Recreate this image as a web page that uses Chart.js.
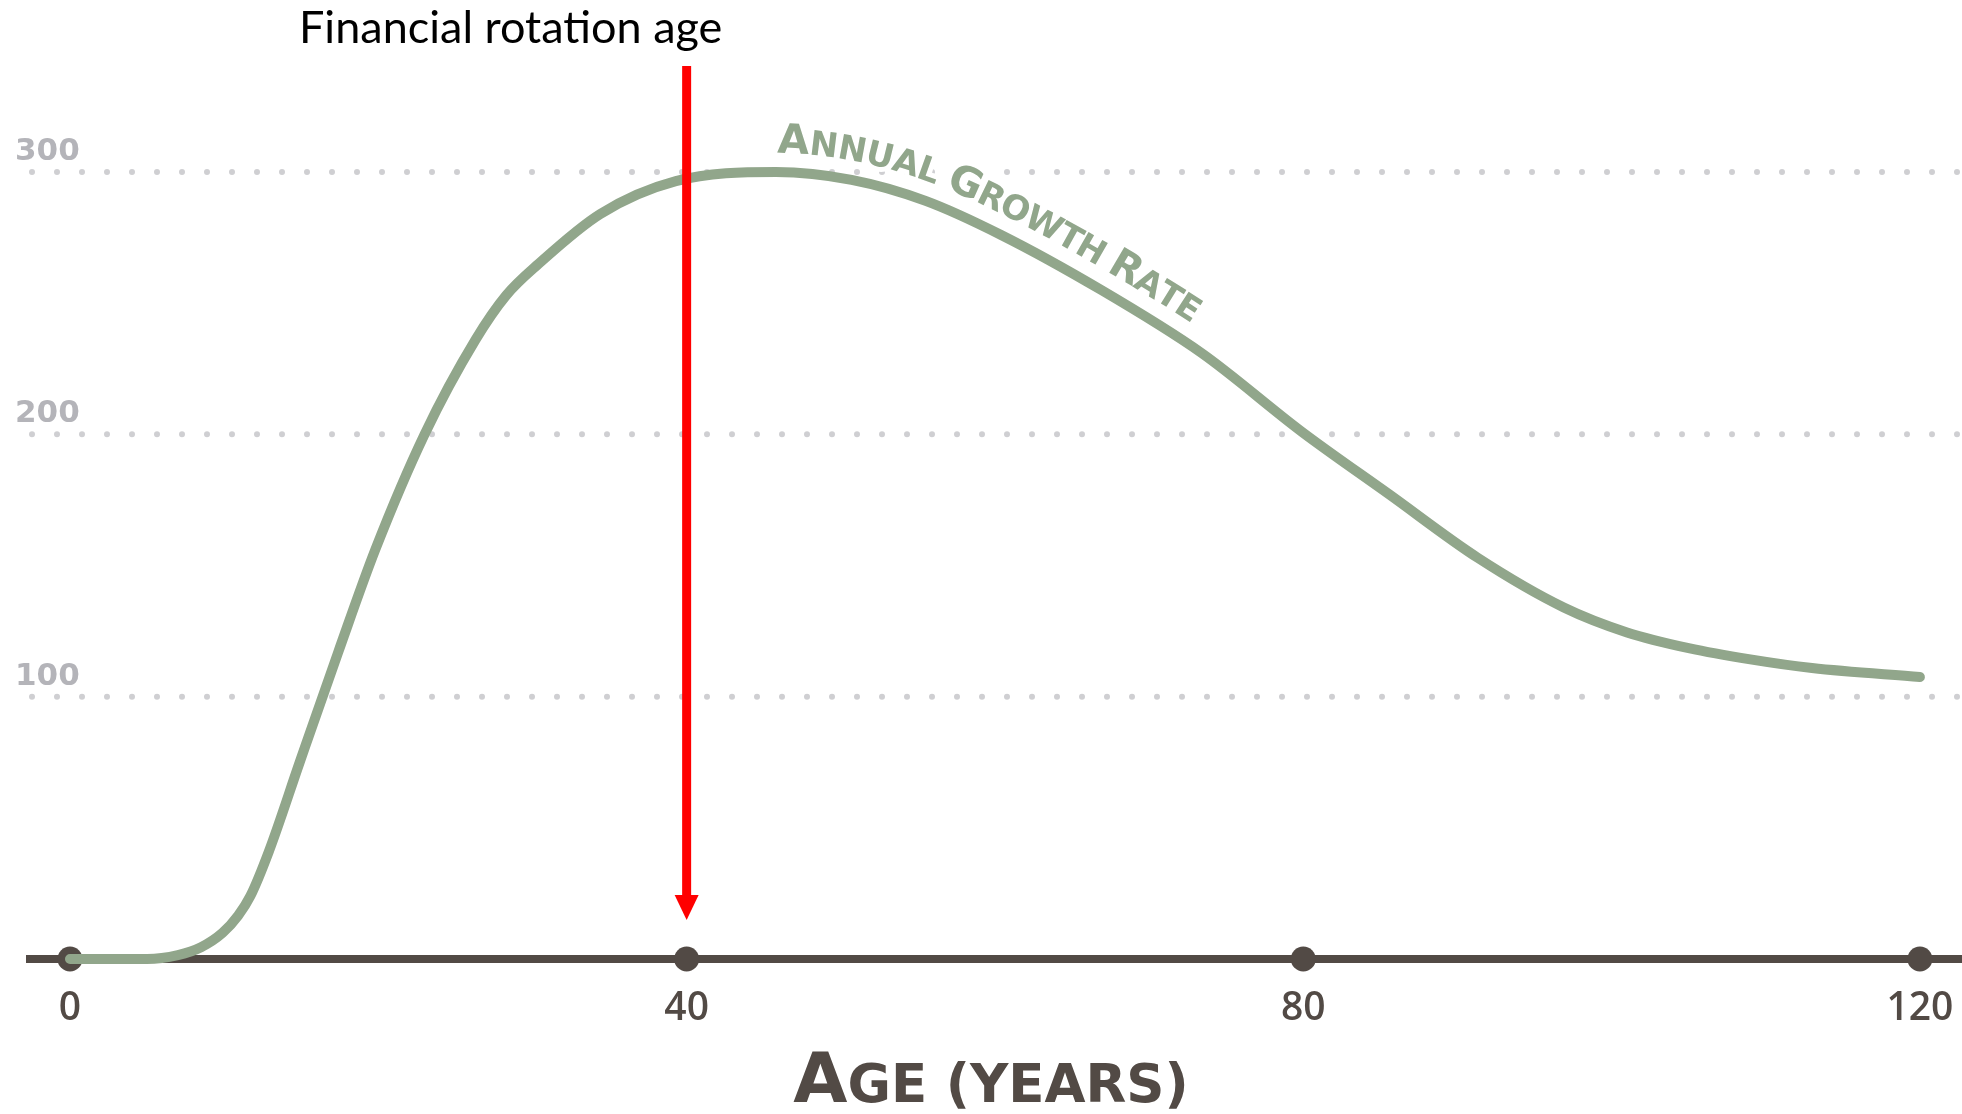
<!DOCTYPE html>
<html>
<head>
<meta charset="utf-8">
<title>Annual growth rate by age</title>
<script src="https://cdn.jsdelivr.net/npm/chart.js@4.4.0/dist/chart.umd.min.js"></script>
<style>
  html, body { margin: 0; padding: 0; background: #fff; }
  canvas { display: block; }
</style>
</head>
<body>
<canvas id="growthChart" width="1962" height="1114"></canvas>
<script>
// stand age (years) and annual growth
const ageYears   = [0, 5, 7, 8.5, 9.9, 10.9, 11.7, 12.9, 14.9, 17.4, 19.8, 23, 26.3, 28.3, 30.4, 34.4, 39.3, 45.8, 50.7, 55.5, 60.4, 66.9, 73.4, 79.9, 85.6, 91.3, 96.9, 101, 105, 109, 113, 120];
const growthRate = [0, 0, 1.5, 4.5, 10, 16.5, 24, 41, 75, 117, 156, 200, 236, 253, 265, 284, 296.5, 300, 297, 289, 276, 255, 231, 201, 177, 153, 134, 124.5, 118.5, 114.2, 110.9, 107.5];

// labelled ages on the bottom axis and the dotted reference levels
const ageTicks    = [0, 40, 80, 120];
const growthTicks = [100, 200, 300];

const rotationAge = 40;
const seriesName  = 'Annual growth rate';
const axisTitle   = 'Age (years)';
const arrowText   = 'Financial rotation age';

const AXIS  = '#524a45';
const CURVE = '#91a68b';
const DOTS  = '#cfcfd2';
const LEVEL = '#b4b4b9';

// sample the drawn (monotone bezier) line so text can follow it
function sampleCurve(points) {
  const path = [];
  for (let i = 0; i < points.length - 1; i++) {
    const a = points[i], b = points[i + 1];
    for (let k = 0; k < 20; k++) {
      const t = k / 20, u = 1 - t;
      path.push({
        x: u * u * u * a.x + 3 * u * u * t * a.cp2x + 3 * u * t * t * b.cp1x + t * t * t * b.x,
        y: u * u * u * a.y + 3 * u * u * t * a.cp2y + 3 * u * t * t * b.cp1y + t * t * t * b.y
      });
    }
  }
  const last = points[points.length - 1];
  path.push({ x: last.x, y: last.y });
  const len = [0];
  for (let i = 1; i < path.length; i++) {
    len.push(len[i - 1] + Math.hypot(path[i].x - path[i - 1].x, path[i].y - path[i - 1].y));
  }
  return { path, len };
}

function drawCurveLabel(chart) {
  const { ctx, scales: { x } } = chart;
  const { path, len } = sampleCurve(chart.getDatasetMeta(0).data);

  const at = s => {
    let i = 1;
    while (i < path.length - 1 && len[i] < s) i++;
    const a = path[i - 1], b = path[i];
    const f = (s - len[i - 1]) / ((len[i] - len[i - 1]) || 1);
    return { x: a.x + (b.x - a.x) * f, y: a.y + (b.y - a.y) * f, angle: Math.atan2(b.y - a.y, b.x - a.x) };
  };
  const lenAtX = px => {
    let i = 0;
    while (i < path.length - 1 && path[i].x < px) i++;
    return len[i];
  };

  // small caps: first letter of each word a little larger
  const glyphs = [];
  seriesName.toUpperCase().split(' ').forEach((word, w) => {
    if (w > 0) glyphs.push({ ch: ' ', size: 34 });
    [...word].forEach((ch, i) => glyphs.push({ ch, size: i === 0 ? 41 : 34 }));
  });
  let total = 0;
  glyphs.forEach(g => {
    ctx.font = `bold ${g.size}px "DejaVu Sans"`;
    g.w = ctx.measureText(g.ch).width;
    total += g.w;
  });

  const s0 = lenAtX(x.getPixelForValue(45.7));
  const s1 = lenAtX(x.getPixelForValue(72.1));
  const gap = (s1 - s0 - total) / (glyphs.length - 1);
  const off = 19;

  let cursor = s0;
  glyphs.forEach(g => {
    const p = at(cursor + g.w / 2);
    g.x = p.x + Math.sin(p.angle) * off;
    g.y = p.y - Math.cos(p.angle) * off;
    g.angle = p.angle;
    cursor += g.w + gap;
  });

  ctx.textAlign = 'center';
  ctx.textBaseline = 'alphabetic';
  ctx.lineJoin = 'round';
  // white halo first so the dotted level line is knocked out behind the letters
  ['halo', 'fill'].forEach(pass => {
    glyphs.forEach(g => {
      if (g.ch === ' ') return;
      ctx.save();
      ctx.translate(g.x, g.y);
      ctx.rotate(g.angle);
      ctx.font = `bold ${g.size}px "DejaVu Sans"`;
      if (pass === 'halo') {
        ctx.strokeStyle = '#fff';
        ctx.lineWidth = 10;
        ctx.strokeText(g.ch, 0, 0);
      } else {
        ctx.fillStyle = CURVE;
        ctx.fillText(g.ch, 0, 0);
      }
      ctx.restore();
    });
  });
}

const overlay = {
  id: 'overlay',
  beforeDatasetsDraw(chart) {
    const { ctx, scales: { y } } = chart;
    ctx.save();
    // dotted levels
    ctx.strokeStyle = DOTS;
    ctx.lineWidth = 6;
    ctx.lineCap = 'round';
    ctx.setLineDash([0, 25]);
    growthTicks.forEach(v => {
      const py = y.getPixelForValue(v);
      ctx.beginPath();
      ctx.moveTo(32, py);
      ctx.lineTo(chart.width, py);
      ctx.stroke();
    });
    ctx.setLineDash([]);
    ctx.fillStyle = LEVEL;
    ctx.font = 'bold 31px "DejaVu Sans"';
    ctx.textAlign = 'left';
    ctx.textBaseline = 'alphabetic';
    growthTicks.forEach(v => ctx.fillText(String(v), 15, y.getPixelForValue(v) - 12));

    drawCurveLabel(chart);
    ctx.restore();
  },
  afterDatasetsDraw(chart) {
    const { ctx, scales: { x } } = chart;
    ctx.save();

    // red arrow at the rotation age
    const ax = x.getPixelForValue(rotationAge);
    ctx.fillStyle = '#ff0000';
    ctx.fillRect(ax - 4.5, 66, 9, 830);
    ctx.beginPath();
    ctx.moveTo(ax - 12, 895);
    ctx.lineTo(ax + 12, 895);
    ctx.lineTo(ax, 920);
    ctx.closePath();
    ctx.fill();

    ctx.fillStyle = '#000';
    ctx.font = '45px Lato';
    ctx.textAlign = 'left';
    ctx.textBaseline = 'alphabetic';
    ctx.fillText(arrowText, 299, 43);

    // axis title in small caps
    const head = axisTitle.charAt(0).toUpperCase();
    const rest = axisTitle.slice(1).toUpperCase();
    const big = 'bold 70px "DejaVu Sans"', small = 'bold 53px "DejaVu Sans"';
    ctx.font = big;
    const w1 = ctx.measureText(head).width;
    ctx.font = small;
    const w2 = ctx.measureText(rest).width;
    const left = 991 - (w1 + w2) / 2;
    ctx.fillStyle = AXIS;
    ctx.font = big;
    ctx.fillText(head, left, 1102);
    ctx.font = small;
    ctx.fillText(rest, left + w1, 1102);

    ctx.restore();
  }
};

new Chart(document.getElementById('growthChart'), {
  type: 'line',
  data: {
    datasets: [
      {
        label: seriesName,
        data: ageYears.map((a, i) => ({ x: a, y: growthRate[i] })),
        borderColor: CURVE,
        borderWidth: 10,
        cubicInterpolationMode: 'monotone',
        borderCapStyle: 'round',
        borderJoinStyle: 'round',
        pointRadius: 0,
        clip: false,
        order: 0
      },
      {
        label: 'Age marks',
        data: ageTicks.map(a => ({ x: a, y: 0 })),
        showLine: false,
        pointRadius: 12.5,
        pointBackgroundColor: AXIS,
        pointBorderWidth: 0,
        clip: false,
        order: 1
      }
    ]
  },
  options: {
    responsive: false,
    animation: false,
    devicePixelRatio: 1,
    layout: { autoPadding: false, padding: { left: 30, right: 0, top: 0, bottom: 0 } },
    plugins: { legend: { display: false }, tooltip: { enabled: false } },
    scales: {
      x: {
        type: 'linear',
        min: -2.5946,
        max: 122.73,
        afterBuildTicks: s => { s.ticks = ageTicks.map(v => ({ value: v })); },
        afterFit: s => {
          s.height = 155;
          s.paddingLeft = 0;
          s.paddingRight = 0;
        },
        grid: { display: false, drawTicks: false },
        border: { display: true, color: AXIS, width: 8 },
        ticks: {
          color: AXIS,
          font: { family: 'Open Sans', size: 39, weight: '600' },
          padding: 26,
          maxRotation: 0,
          autoSkip: false
        }
      },
      y: { display: false, min: 0, max: 365.57 }
    }
  },
  plugins: [overlay]
});
</script>
</body>
</html>
